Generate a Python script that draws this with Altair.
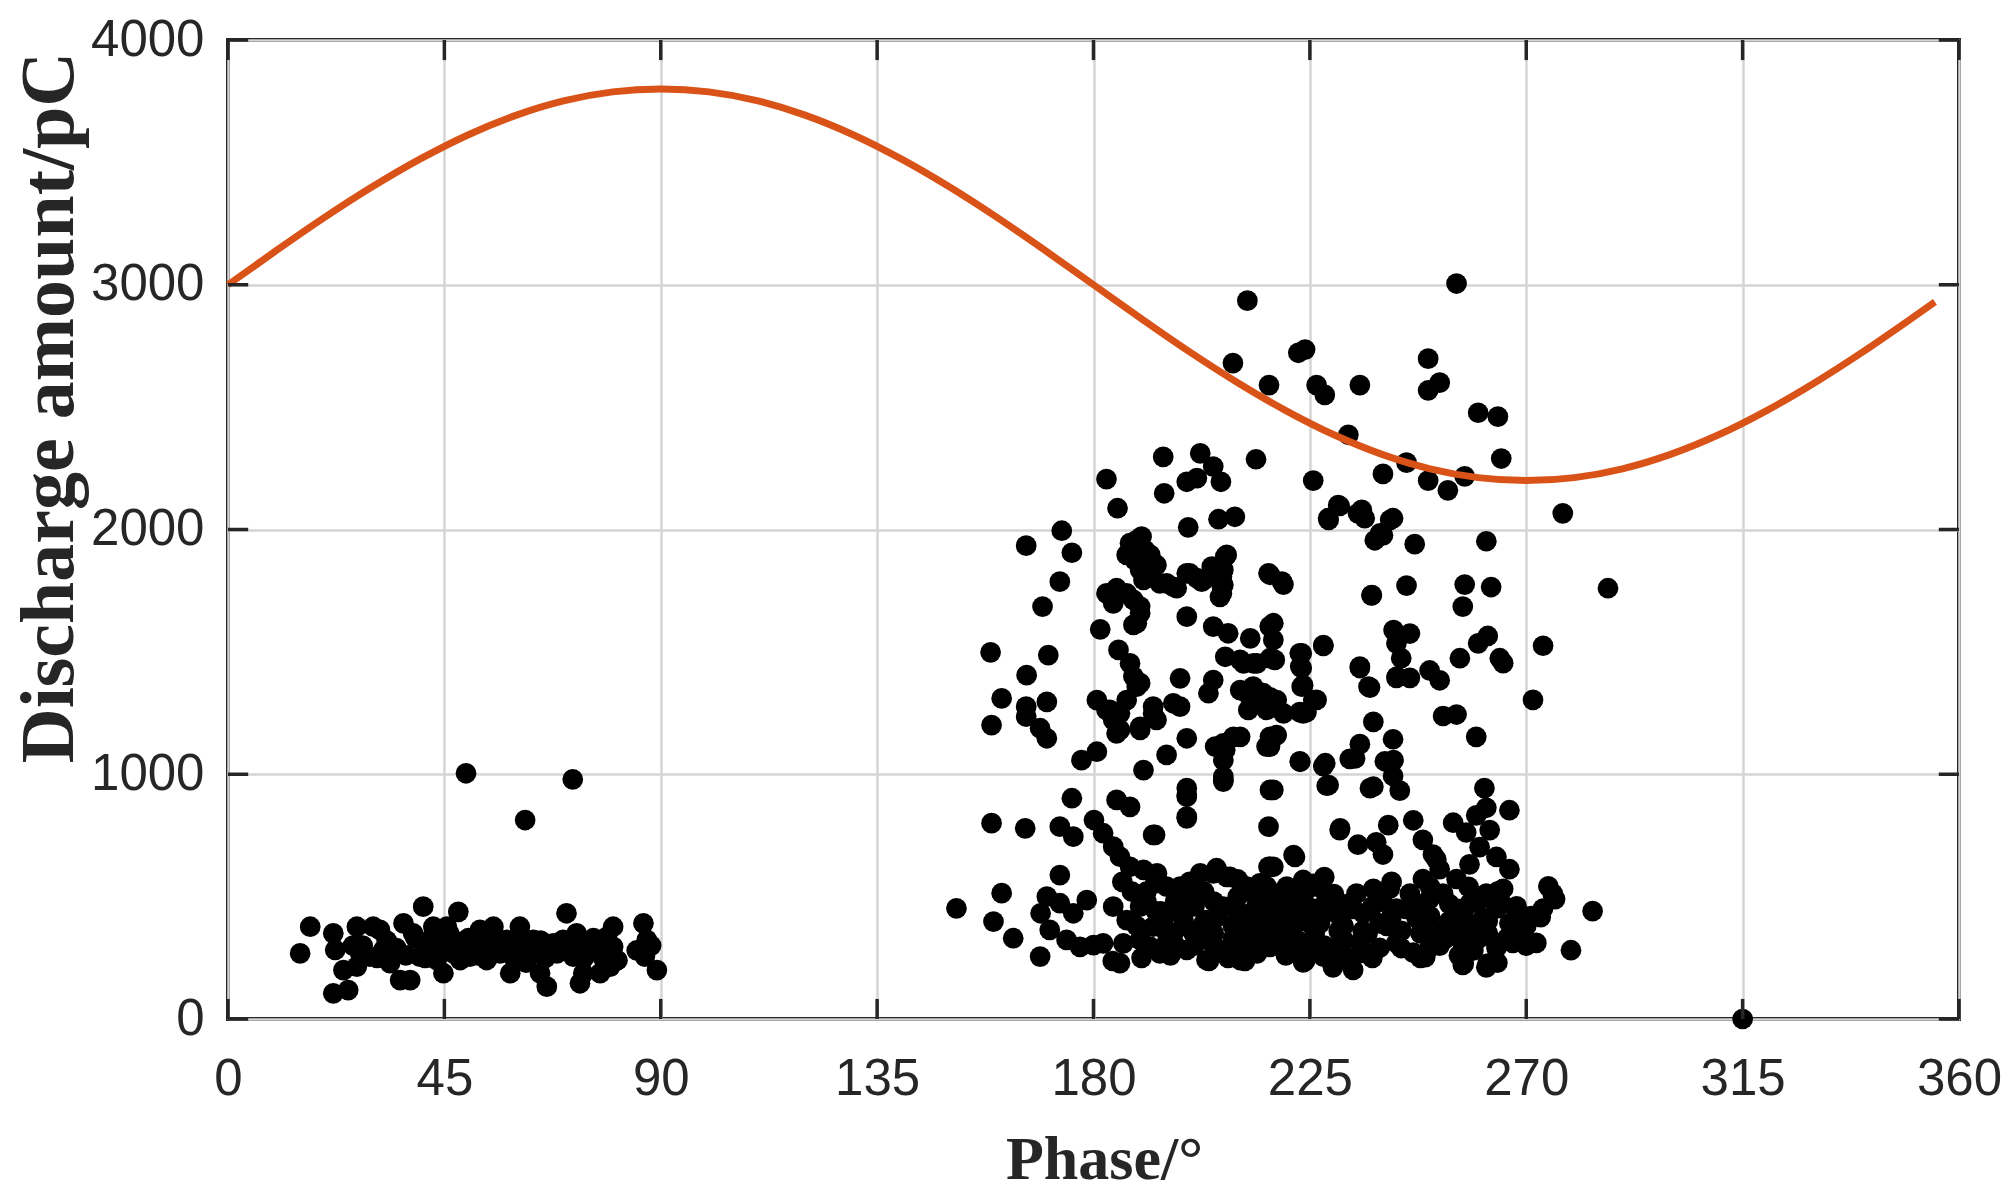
import altair as alt
import pandas as pd

# ---- tick values ----
x_ticks = [0, 45, 90, 135, 180, 225, 270, 315, 360]
y_ticks = [0, 1000, 2000, 3000, 4000]

# ---- power-frequency reference curve (phase, pC) ----
curve_phase = [0, 10, 20, 30, 40, 50, 60, 70, 80, 90, 100, 110, 120, 130, 140, 150, 160, 170,
               180, 190, 200, 210, 220, 230, 240, 250, 260, 270, 280, 290, 300, 310, 320, 330,
               340, 350, 355]
curve_value = [3000, 3139, 3274, 3400, 3514, 3613, 3693, 3752, 3788, 3800, 3788, 3752, 3693, 3613,
               3514, 3400, 3274, 3139, 3000, 2861, 2726, 2600, 2486, 2387, 2307, 2248, 2212, 2200,
               2212, 2248, 2307, 2387, 2486, 2600, 2726, 2861, 2930]

# ---- discharge pulses (phase deg, amount pC) ----
left_cluster = [
    (15, 268), (17.1, 377), (21.9, 105), (25, 118), (21.9, 350), (22.3, 282), (24, 200), (26.8, 214),
    (26.8, 377), (30.2, 377), (31.6, 364), (27.5, 268), (29.5, 255), (32.3, 282), (33.7, 228),
    (35.8, 159), (37.9, 159), (36.5, 391), (38.5, 350), (40.6, 459), (42.7, 377), (41.3, 295),
    (44.1, 323), (39.9, 255), (43.4, 241), (44.8, 187), (46.9, 268), (45.5, 377), (47.9, 438),
    (49.6, 323), (51.7, 295), (52.4, 364), (55.2, 377), (53.8, 241), (56.6, 268), (59.3, 255),
    (60.7, 377), (58.7, 187), (62.1, 268), (64.9, 187), (66.3, 132), (63.5, 323), (67.7, 309),
    (70.4, 432), (69.7, 323), (72.5, 350), (71.8, 255), (73.9, 187), (75.3, 295), (73.2, 146),
    (77.4, 187), (78.8, 336), (80.1, 295), (79.5, 214), (86.4, 391), (87.1, 323), (86.7, 255),
    (89.2, 200), (42, 323), (45.5, 295), (44.1, 268), (46.9, 323), (48.3, 241), (50.3, 255),
    (55.2, 295), (58, 323), (61.4, 323), (64.9, 268), (68.4, 268), (77.4, 268), (80.1, 377),
    (33, 320), (35, 290), (37, 260), (39, 330), (41, 250), (43, 290), (46, 350), (48, 290),
    (50, 330), (52, 260), (54, 320), (57, 290), (60, 300), (62, 230), (65, 320), (66, 250),
    (68, 300), (70, 280), (72, 300), (74, 250), (76, 330), (78, 250), (81, 240), (28, 300),
    (31, 250), (26, 300), (88, 300), (85, 280),
]

outliers = [(49.5, 1004), (71.7, 979), (61.8, 813), (315, 0)]

right_upper = [
    (255.5, 3005), (212, 2935), (209, 2680), (216.5, 2590), (222.6, 2722), (224, 2735), (226.4, 2590),
    (228.1, 2550), (235.4, 2590), (249.6, 2698), (252, 2600), (249.6, 2568), (260, 2477), (264.1, 2461),
    (264.8, 2290), (233, 2387), (225.7, 2200), (240.2, 2227), (245.1, 2273), (249.6, 2200),
    (253.7, 2160), (257.2, 2217), (228.8, 2046), (231.2, 2096), (235, 2066), (236.4, 2046),
    (238.5, 1956), (240.2, 1976), (242.3, 2046), (246.8, 1940), (261.7, 1952), (277.6, 2066),
    (194.5, 2297), (202.2, 2311), (204.9, 2257), (213.8, 2287), (182.7, 2206), (199.4, 2195),
    (201.5, 2210), (206.5, 2195), (194.7, 2148), (185, 2087), (199.7, 2009), (206, 2042),
    (209.4, 2052), (173.4, 1995), (166, 1934), (175.5, 1905), (189, 1957), (190.7, 1916),
    (191.8, 1896), (207.7, 1896), (190, 1971), (187.6, 1944), (239.6, 1984), (241.7, 2039),
    (235.8, 2080), (230.9, 2100), (228.9, 2039),
]

right_mid = [
    (287, 1760), (216.7, 1815), (219.5, 1775), (237.8, 1731), (245.1, 1771), (257.2, 1775),
    (256.8, 1685), (262.7, 1765), (216.7, 1605), (216.7, 1474), (216.7, 1314), (216.7, 1153),
    (222.9, 1494), (223.3, 1434), (223.6, 1364), (222.9, 1254), (226.4, 1304), (224.3, 1254),
    (227.8, 1524), (235.4, 1434), (237.5, 1354), (238.2, 1214), (235.4, 1123), (233.3, 1063),
    (243, 1535), (245.8, 1575), (244, 1474), (243, 1394), (245.8, 1394), (249.9, 1424), (252, 1384),
    (252.7, 1238), (255.5, 1244), (256.2, 1474), (260, 1535), (262, 1565), (264.5, 1474),
    (265.2, 1454), (273.5, 1525), (271.4, 1304), (259.6, 1153), (242.3, 1143), (240.6, 1053),
    (242.3, 993), (243.7, 933), (237.5, 943), (222.9, 1053), (227.8, 1033), (228.5, 953),
    (261.3, 943), (261.7, 863), (266.5, 853), (259.6, 832), (262.4, 772), (254.8, 802),
    (257.5, 762), (246.5, 812), (248.5, 732), (250.6, 672), (252, 612), (241.3, 792), (238.8, 722),
    (240.2, 672), (235, 712), (231.2, 772), (221.9, 662), (217.4, 622), (260.3, 702), (263.8, 662),
    (266.5, 612), (258.2, 632), (251.3, 652),
    (173, 1787), (169.4, 1685), (181.4, 1592), (158.6, 1498), (170.6, 1487), (166.1, 1405),
    (160.9, 1310), (166, 1276), (166, 1235), (170.3, 1296), (158.8, 1201), (168.9, 1188),
    (170.3, 1147), (177.5, 1058), (180.7, 1092), (190.4, 1017), (195.2, 1079), (199.4, 1147),
    (205.3, 1113), (207.4, 1099), (207, 977), (209.1, 1153), (216, 1113), (218.1, 1160), (223, 1051),
    (228.2, 1045), (228.9, 956), (217.4, 936), (234.4, 1065), (238.2, 949), (242.4, 1058),
    (199.4, 943), (186.9, 1896), (188.6, 1875), (191.4, 1875), (193.1, 1855), (190.7, 1821),
    (195.2, 1780), (197.3, 1760), (199.4, 1821), (201.5, 1801), (202.5, 1787), (206.7, 1807),
    (207.4, 1889), (206.7, 1766), (206.3, 1725), (204.6, 1848), (216.4, 1821), (219.2, 1787),
    (237.9, 1732), (227.8, 1528), (235.4, 1440), (237.2, 1358), (242.4, 1589), (243.1, 1399),
    (182.7, 1739), (184.8, 1760), (186.9, 1739), (184.1, 1698), (188.3, 1712), (189.7, 1658),
    (188.3, 1610), (185.2, 1508), (187.6, 1453), (188.3, 1399), (189, 1358), (186.9, 1303),
    (185.5, 1249), (180.7, 1303), (182.7, 1263), (184.1, 1222), (184.8, 1167), (192.4, 1249),
    (189.7, 1181), (193.1, 1222), (199.4, 1644), (204.9, 1603), (208, 1576), (212.6, 1555),
    (217.4, 1617), (217.4, 1549), (217.7, 1467), (207.4, 1480), (211.2, 1453), (214, 1453),
    (223.3, 1494), (223, 1440), (223.3, 1358), (225.7, 1303), (223.6, 1249), (212.6, 1317),
    (215.3, 1331), (218.1, 1303), (216, 1263), (219.5, 1249), (210.5, 1344), (213.2, 1358),
    (212.2, 1263), (204.9, 1385), (203.9, 1331), (198, 1392), (196.6, 1290), (198, 1276),
    (192.4, 1276), (189.7, 1685), (189, 1617), (189.7, 1372), (183.4, 1263), (185.5, 1181),
    (189.7, 1194), (193.8, 1780), (196.6, 1766), (200, 1821), (202.9, 1794), (207, 1773),
    (206.7, 1739), (207, 1835), (189.7, 1835), (190.4, 1794), (210.5, 1467), (213.3, 1453),
    (216.7, 1603), (211.9, 1331), (214.6, 1290), (210.5, 1153), (207, 1126), (207, 1058), (207, 990),
    (216.7, 1113), (216.7, 936), (216.4, 786), (216.7, 622), (199.4, 908), (199.4, 827),
    (192.4, 752), (175.5, 902), (158.8, 800), (165.8, 779), (173, 786), (175.8, 745), (180.1, 813),
    (182, 759), (184.1, 704), (185.5, 663), (187.6, 622), (190.4, 609), (193.1, 581), (184.8, 895),
    (187.6, 867), (173, 588), (207, 970), (199.4, 915), (199.4, 820), (231.3, 779), (192.8, 752),
    (221.6, 670), (216.4, 622),
]

right_low = [
    (160.9, 514), (159.2, 398), (163.3, 330), (168.9, 255), (151.5, 452), (170.3, 500), (173, 473),
    (175.8, 432), (178.6, 486), (169, 432), (170.9, 364), (174.4, 323), (177.2, 295), (180, 302),
    (182, 309), (184.1, 459), (186.9, 404), (189.7, 459), (186.2, 309), (189.7, 323), (192.4, 377),
    (193.8, 268), (196.6, 350), (198, 432), (195.2, 541), (199.4, 514), (202.2, 595), (204.9, 595),
    (207.7, 581), (207, 459), (203.5, 404), (200.8, 350), (199.4, 282), (203.5, 241), (208.4, 295),
    (210.5, 241), (213.3, 323), (214.6, 404), (213.3, 514), (216, 541), (217.4, 432), (217.4, 309),
    (185.5, 228), (193.2, 595), (192.8, 554), (198, 541), (205.6, 616), (208.4, 581), (211.9, 541),
    (214.6, 554), (220.2, 541), (223.6, 568), (226.4, 541), (229.2, 459), (231.9, 432), (202.9, 391),
    (198.7, 404), (194.5, 391), (191.8, 295), (195.2, 309), (207.7, 268), (211.2, 241), (214, 268),
    (216.7, 295), (214.6, 364), (212.6, 432), (219.5, 404), (222.3, 323), (225, 282), (227.8, 255),
    (230.6, 241), (232, 323), (225, 391), (220.9, 500), (218.1, 486), (275.5, 512), (273.5, 451),
    (283.8, 441), (279.3, 281), (256.8, 221), (261.7, 211), (234, 201), (223.6, 231), (229.8, 211),
    (265.2, 532), (261.7, 512), (255.5, 572), (248.5, 572), (218.8, 512), (222.2, 532), (225.7, 552),
    (228.5, 491), (220.2, 411), (223.6, 431), (227.1, 391), (230.5, 431), (218.8, 311), (222.9, 291),
    (226.4, 311), (230.5, 291), (234.7, 512), (238.2, 532), (241.6, 532), (245.8, 512), (236.1, 431),
    (239.5, 391), (243, 451), (247.2, 411), (249.9, 491), (252.7, 512), (255.5, 451), (258.2, 471),
    (261, 411), (263.8, 451), (266.5, 391), (269.3, 351), (272.1, 311), (235.4, 311), (239.5, 291),
    (243, 311), (246.5, 271), (249.9, 291), (253.4, 331), (256.8, 311), (260.3, 331), (263.8, 291),
    (267.2, 311), (273, 416), (276, 490), (274.6, 542), (184, 237), (204, 237), (211.5, 237),
    (224, 237), (249, 253), (257, 226), (262, 226), (188, 520), (191, 480), (194, 440), (197, 300),
    (201, 300), (205, 350), (209, 380), (210, 500), (205, 480), (212, 350), (215, 440), (219, 350),
    (221, 460), (224, 470), (227, 420), (231, 360), (233, 470), (236, 360), (238, 460), (241, 380),
    (244, 360), (247, 470), (251, 360), (254, 400), (258, 380), (262, 350), (265, 470), (268, 420),
    (270, 380), (264, 230), (233, 250),
    (186, 560), (189, 380), (191, 520), (193, 440), (195, 360), (197, 480), (199, 380), (201, 460),
    (203, 520), (205, 300), (206, 420), (209, 330), (210, 440), (212, 290), (213, 400), (215, 500),
    (217, 360), (219, 460), (221, 290), (222, 390), (224, 520), (226, 350), (228, 300), (230, 510),
    (232, 380), (234, 450), (236, 270), (237, 350), (240, 480), (242, 420), (244, 290), (245, 450),
    (248, 350), (250, 420), (252, 300), (254, 470), (255, 360), (257, 420), (259, 280), (260, 480),
    (262, 400), (264, 520), (266, 330), (268, 460), (270, 300), (271, 420), (190, 250), (196, 260),
    (202, 330), (208, 250), (214, 470), (220, 260), (226, 450), (238, 250), (248, 250), (256, 260),
    (200, 560), (210, 570), (228, 580), (242, 560), (250, 540), (258, 540),
]

# ---- tables ----
pts = left_cluster + outliers + right_upper + right_mid + right_low
points_df = pd.DataFrame(pts, columns=["phase", "amount"])
curve_df = pd.DataFrame({"phase": curve_phase, "amount": curve_value})

TICK_X = 4.2    # inward tick length in degrees (~20 px)
TICK_Y = 82     # inward tick length in pC (~20 px)
xt = pd.DataFrame({"v": x_ticks})
yt = pd.DataFrame({"v": y_ticks})

XS = alt.Scale(domain=[0, 360], nice=False, zero=False)
YS = alt.Scale(domain=[0, 4000], nice=False)

LABEL_FONT = "Liberation Sans"
TITLE_FONT = "Liberation Serif"
INK = "#262626"

x_axis = alt.Axis(
    values=x_ticks, grid=True, ticks=False, domain=False, format="d",
    labelFont=LABEL_FONT, labelFontSize=51, labelColor=INK, labelPadding=35,
    labelFlush=False, labelOverlap=False,
    title="Phase/°", titleFont=TITLE_FONT, titleFontSize=62, titleFontWeight="bold",
    titleColor=INK, titleBaseline="alphabetic", titleAlign="center", titleX=876, titleY=159,
)
y_axis = alt.Axis(
    values=y_ticks, grid=True, ticks=False, domain=False, format="d",
    labelFont=LABEL_FONT, labelFontSize=51, labelColor=INK, labelPadding=24,
    labelFlush=False, labelOverlap=False,
    title="Discharge amount/pC", titleFont=TITLE_FONT, titleFontSize=76, titleFontWeight="bold",
    titleColor=INK, titleBaseline="alphabetic", titleAlign="center", titleAngle=270,
    titleX=-156, titleY=367,
)

scatter = alt.Chart(points_df).mark_circle(size=430, color="black", opacity=1).encode(
    x=alt.X("phase:Q", scale=XS, axis=x_axis),
    y=alt.Y("amount:Q", scale=YS, axis=y_axis),
)

curve = alt.Chart(curve_df).mark_line(color="#D95319", strokeWidth=7, interpolate="monotone").encode(
    x=alt.X("phase:Q", scale=XS),
    y=alt.Y("amount:Q", scale=YS),
)

tick_style = dict(color=INK, strokeWidth=3.5)
bottom_ticks = alt.Chart(xt).transform_calculate(y0="0", y1=str(TICK_Y)).mark_rule(**tick_style).encode(
    x=alt.X("v:Q", scale=XS), y=alt.Y("y0:Q", scale=YS), y2="y1:Q")
top_ticks = alt.Chart(xt).transform_calculate(y0="4000", y1=str(4000 - TICK_Y)).mark_rule(**tick_style).encode(
    x=alt.X("v:Q", scale=XS), y=alt.Y("y0:Q", scale=YS), y2="y1:Q")
left_ticks = alt.Chart(yt).transform_calculate(x0="0", x1=str(TICK_X)).mark_rule(**tick_style).encode(
    y=alt.Y("v:Q", scale=YS), x=alt.X("x0:Q", scale=XS), x2="x1:Q")
right_ticks = alt.Chart(yt).transform_calculate(x0="360", x1=str(360 - TICK_X)).mark_rule(**tick_style).encode(
    y=alt.Y("v:Q", scale=YS), x=alt.X("x0:Q", scale=XS), x2="x1:Q")

chart = alt.layer(scatter, curve, bottom_ticks, top_ticks, left_ticks, right_ticks).properties(
    width=1731, height=979,
    autosize=alt.AutoSizeParams(type="none"),
    padding={"left": 220, "top": 32, "right": 47, "bottom": 177},
    background="white",
).configure_view(
    stroke=INK, strokeWidth=4, fill="white",
).configure_axis(
    gridColor="#d4d4d4", gridWidth=2.5, gridOpacity=1,
)

chart.save("out.html", embed_options={"renderer": "svg", "actions": False})
